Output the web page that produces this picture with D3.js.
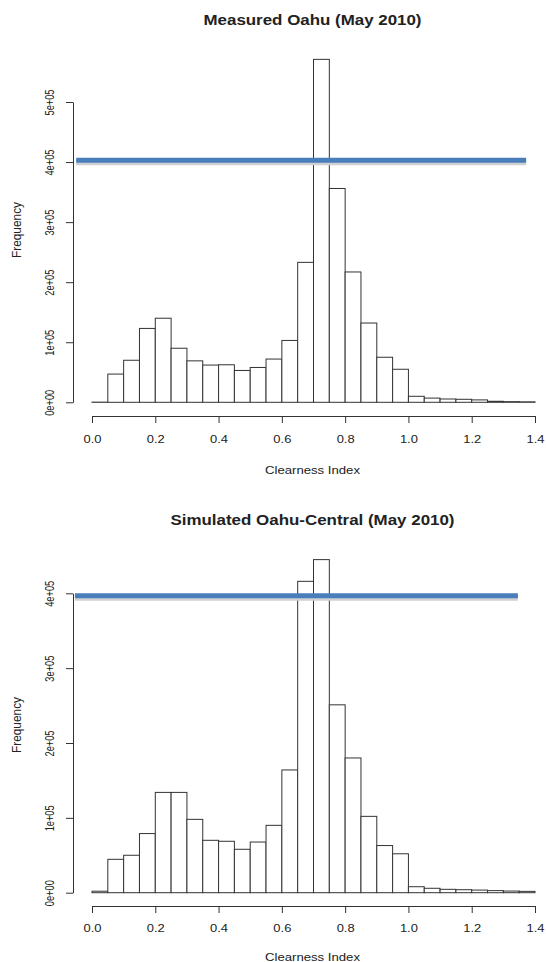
<!DOCTYPE html>
<html>
<head>
<meta charset="utf-8">
<script src="https://cdn.jsdelivr.net/npm/d3@7/dist/d3.min.js"></script>
<style>
  html, body { margin: 0; padding: 0; background: #ffffff; }
  svg { display: block; }
  text { font-family: "Liberation Sans", Arial, sans-serif; fill: #222; }
</style>
</head>
<body>
<svg id="chart" width="546" height="962"></svg>
<script>
// ---- data ----
const binStarts = [0.00, 0.05, 0.10, 0.15, 0.20, 0.25, 0.30, 0.35, 0.40, 0.45,
                   0.50, 0.55, 0.60, 0.65, 0.70, 0.75, 0.80, 0.85, 0.90, 0.95,
                   1.00, 1.05, 1.10, 1.15, 1.20, 1.25, 1.30, 1.35];
const binWidth = 0.05;

const measuredCounts = [300, 47000, 70000, 123000, 140000, 90000, 69000, 62000, 62500, 53000,
                        58000, 72000, 103000, 233000, 571000, 356000, 217000, 132000, 75000, 55000,
                        10000, 7000, 5500, 5000, 4000, 1700, 1100, 800];

const simulatedCounts = [2000, 44600, 50000, 79000, 134000, 134000, 98000, 70000, 68700, 58000,
                         67700, 90000, 164000, 416000, 445000, 251000, 180000, 102000, 63000, 52000,
                         8000, 5900, 4500, 4000, 3500, 2800, 2200, 1800];

const xTickValues = [0.0, 0.2, 0.4, 0.6, 0.8, 1.0, 1.2, 1.4];
const xTickLabelsTop = ["0.0", "0.2", "0.4", "0.6", "0.8", "1.0", "1.2", "1.4"];
const xTickLabelsBottom = ["0.0", "0.2", "0.4", "0.6", "0.8", "1.0", "1.2", "1.4"];

const yTickValuesTop = [0, 100000, 200000, 300000, 400000, 500000];
const yTickLabelsTop = ["0e+00", "1e+05", "2e+05", "3e+05", "4e+05", "5e+05"];
const yTickValuesBottom = [0, 100000, 200000, 300000, 400000];
const yTickLabelsBottom = ["0e+00", "1e+05", "2e+05", "3e+05", "4e+05"];

const titles = ["Measured Oahu (May 2010)", "Simulated Oahu-Central (May 2010)"];
const xAxisTitle = "Clearness Index";
const yAxisTitle = "Frequency";

// overlay reference lines (value, x start, x end in data units)
const refLineTop = { value: 403000, x0: -0.05, x1: 1.372 };
const refLineBottom = { value: 396700, x0: -0.054, x1: 1.346 };

// ---- drawing ----
const svg = d3.select("#chart");
const FONT = "Liberation Sans, Arial, sans-serif";

function drawPanel(o) {
  const g = svg.append("g");
  const x = d3.scaleLinear().domain([0, 1.4]).range([92, 535]);
  const y = d3.scaleLinear().domain([0, o.yMax]).range([o.y0, o.yTop]);

  // bars
  g.selectAll("rect.bar")
    .data(binStarts.map((s, i) => ({ s: s, v: o.counts[i] })))
    .join("rect")
    .attr("class", "bar")
    .attr("x", d => x(d.s))
    .attr("width", d => x(d.s + binWidth) - x(d.s))
    .attr("y", d => y(d.v))
    .attr("height", d => y(0) - y(d.v))
    .attr("fill", "#ffffff")
    .attr("stroke", "#333")
    .attr("stroke-width", 1);

  // x axis
  const xa = g.append("g")
    .attr("transform", `translate(0,${o.xAxisY})`)
    .call(d3.axisBottom(x).tickValues(xTickValues)
      .tickFormat((d, i) => o.xLabels[i]).tickSize(7).tickSizeOuter(0));
  xa.select(".domain").attr("stroke", "#333");
  xa.selectAll(".tick line").attr("stroke", "#333");
  xa.selectAll(".tick text")
    .attr("y", o.xLabelOffset).attr("dy", null)
    .attr("font-size", 10.5).attr("fill", "#333")
    .attr("textLength", 18).attr("lengthAdjust", "spacingAndGlyphs")
    .attr("font-family", FONT);

  // y axis
  const ya = g.append("g")
    .attr("transform", `translate(73,0)`)
    .call(d3.axisLeft(y).tickValues(o.yTicks)
      .tickFormat((d, i) => o.yLabels[i]).tickSize(7).tickSizeOuter(0));
  ya.select(".domain").attr("stroke", "#333");
  ya.selectAll(".tick line").attr("stroke", "#333");
  ya.selectAll(".tick text")
    .attr("transform", "rotate(-90) scale(1,1.3)")
    .attr("x", 0).attr("y", -19 / 1.3).attr("dy", null)
    .attr("text-anchor", "middle")
    .attr("font-size", 10).attr("fill", "#333")
    .attr("textLength", 26).attr("lengthAdjust", "spacingAndGlyphs")
    .attr("font-family", FONT);

  // reference line with shadow
  g.append("line")
    .attr("x1", x(o.ref.x0)).attr("x2", x(o.ref.x1))
    .attr("y1", y(o.ref.value) + 3).attr("y2", y(o.ref.value) + 3)
    .attr("stroke", "#cfd0d2").attr("stroke-width", 4);
  g.append("line")
    .attr("x1", x(o.ref.x0)).attr("x2", x(o.ref.x1))
    .attr("y1", y(o.ref.value)).attr("y2", y(o.ref.value))
    .attr("stroke", "#4a7ebb").attr("stroke-width", 5);

  // title
  g.append("text")
    .attr("x", 312.5).attr("y", o.titleY)
    .attr("text-anchor", "middle")
    .attr("font-size", 14).attr("font-weight", "bold")
    .attr("textLength", o.titleLen).attr("lengthAdjust", "spacingAndGlyphs")
    .text(o.title);

  // x axis title
  g.append("text")
    .attr("x", 312.5).attr("y", o.xTitleY)
    .attr("text-anchor", "middle")
    .attr("font-size", 11.5).attr("fill", "#333")
    .attr("textLength", 95).attr("lengthAdjust", "spacingAndGlyphs")
    .text(xAxisTitle);

  // y axis title
  g.append("text")
    .attr("transform", `translate(21,${o.yTitleY}) rotate(-90) scale(1,1.15)`)
    .attr("text-anchor", "middle")
    .attr("font-size", 11.5).attr("fill", "#333")
    .attr("textLength", 56).attr("lengthAdjust", "spacingAndGlyphs")
    .text(yAxisTitle);
}

drawPanel({
  counts: measuredCounts, yMax: 500000, y0: 402.3, yTop: 102,
  yTicks: yTickValuesTop, yLabels: yTickLabelsTop, xLabels: xTickLabelsTop,
  xAxisY: 416, xLabelOffset: 27, ref: refLineTop,
  title: titles[0], titleY: 24.5, titleLen: 218,
  xTitleY: 473.5, yTitleY: 230
});

drawPanel({
  counts: simulatedCounts, yMax: 400000, y0: 892.7, yTop: 593.3,
  yTicks: yTickValuesBottom, yLabels: yTickLabelsBottom, xLabels: xTickLabelsBottom,
  xAxisY: 906, xLabelOffset: 26, ref: refLineBottom,
  title: titles[1], titleY: 525, titleLen: 284,
  xTitleY: 960.5, yTitleY: 725
});
</script>
</body>
</html>
